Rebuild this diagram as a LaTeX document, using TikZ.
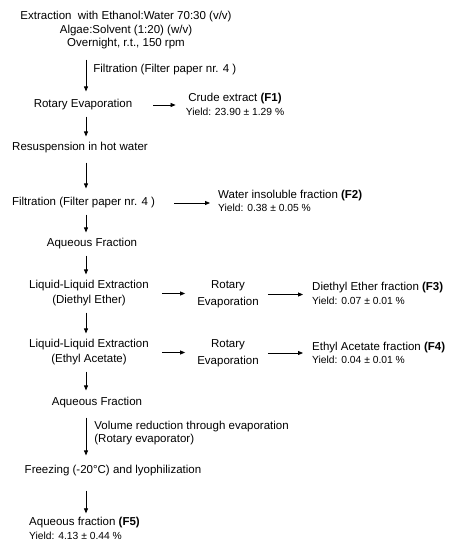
\documentclass[tikz,border=0pt]{standalone}
\usepackage{fontspec}
\setmainfont{Liberation Sans}
\usepackage{tikz}
\usetikzlibrary{arrows.meta,positioning}
\newcommand{\yieldline}[1]{{\fontsize{10.3}{12}\selectfont Yield: #1}}

\begin{document}
\begin{tikzpicture}[x=1pt,y=-1pt,
    txt/.style={inner sep=0pt,font=\fontsize{11.5}{13.5}\selectfont},
    flow/.style={-{Triangle[length=5pt,width=4pt]},line width=0.8pt,
      shorten <=6pt,shorten >=6pt}]
          \useasboundingbox (0,0) rectangle (455,550);
          \coordinate (spine) at (86,0);
          \node[txt,align=center] (start) at (126,30.5)
            {Extraction\ \ with Ethanol:Water 70:30 (v/v)\\
             Algae:Solvent (1:20) (w/v)\\
             Overnight, r.t., 150 rpm};
          \node[txt] (rot1) at (83,105) {Rotary Evaporation};
          \node[txt,align=center] (crude) at (235,104.5)
            {Crude extract \textbf{(F1)}\\ \yieldline{23.90 ± 1.29 \%}};
          \node[txt] (resus) at (80,148) {Resuspension in hot water};
          \node[txt] (filt2) at (83.5,203) {Filtration (Filter paper nr. 4 )};
          \node[txt,align=left,anchor=west] (insol) at (218,201)
            {Water insoluble fraction \textbf{(F2)}\\ \yieldline{0.38 ± 0.05 \%}};
          \node[txt] (aq1) at (92,244) {Aqueous Fraction};
          \node[txt,align=center] (lle1) at (89,293.5)
            {Liquid-Liquid Extraction\\[1.5pt] (Diethyl Ether)};
          \node[txt,align=center] (rotev1) at (228,294.5)
            {Rotary\\[3.5pt] Evaporation};
          \node[txt,align=left,anchor=west] (ether) at (312,293.5)
            {Diethyl Ether fraction \textbf{(F3)}\\ \yieldline{0.07 ± 0.01 \%}};
          \node[txt,align=center] (lle2) at (89,352.5)
            {Liquid-Liquid Extraction\\[1.5pt] (Ethyl Acetate)};
          \node[txt,align=center] (rotev2) at (228,353)
            {Rotary\\[3.5pt] Evaporation};
          \node[txt,align=left,anchor=west] (acet) at (312,353)
            {Ethyl Acetate fraction \textbf{(F4)}\\ \yieldline{0.04 ± 0.01 \%}};
          \node[txt] (aq2) at (97,403) {Aqueous Fraction};
          \node[txt] (freeze) at (113,471) {Freezing (-20°C) and lyophilization};
          \node[txt,align=left,anchor=west] (final) at (29,528.5)
            {Aqueous fraction \textbf{(F5)}\\ \yieldline{4.13 ± 0.44 \%}};

          \draw[flow,shorten <=10pt,shorten >=8pt] (start.south -| spine) -- (rot1.north -| spine)
            node[txt,midway,right=7pt,yshift=5pt] (filt1) {Filtration (Filter paper nr. 4 )};
          \draw[flow,shorten <=21pt,shorten >=10pt] (rot1.east) -- (rot1.east -| crude.west);
          \draw[flow] (rot1.south -| spine) -- (resus.north -| spine);
          \draw[flow,shorten <=9pt,shorten >=9pt] (resus.south -| spine) -- (filt2.north -| spine);
          \draw[flow,shorten <=19pt,shorten >=8pt] (filt2.east) -- (filt2.east -| insol.west);
          \draw[flow] (filt2.south -| spine) -- (aq1.north -| spine);
          \draw[flow] (aq1.south -| spine) -- (lle1.north -| spine);
          \draw[flow,shorten <=13pt,shorten >=12pt] (lle1.east) -- (lle1.east -| rotev1.west);
          \draw[flow,shorten <=9pt,shorten >=9pt] (rotev1.east) -- (rotev1.east -| ether.west);
          \draw[flow] (lle1.south -| spine) -- (lle2.north -| spine);
          \draw[flow,shorten <=13pt,shorten >=12pt] (lle2.east) -- (lle2.east -| rotev2.west);
          \draw[flow,shorten <=9pt,shorten >=9pt] (rotev2.east) -- (rotev2.east -| acet.west);
          \draw[flow,shorten >=7pt] (lle2.south -| spine) -- (aq2.north -| spine);
          \draw[flow,shorten <=9pt,shorten >=10pt] (aq2.south -| spine) -- (freeze.north -| spine)
            node[txt,align=left,anchor=north west,pos=0.12,xshift=8pt,yshift=-5pt] (volred)
            {Volume reduction through evaporation\\ (Rotary evaporator)};
          \draw[flow,shorten <=14pt,shorten >=4pt] (freeze.south -| spine) -- (final.north -| spine);
        \end{tikzpicture}
\end{document}
